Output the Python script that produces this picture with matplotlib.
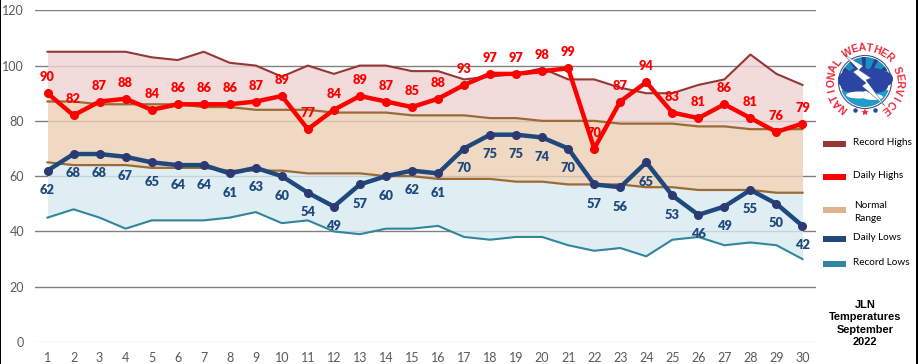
import numpy as np
import matplotlib
matplotlib.use('Agg')
import matplotlib.pyplot as plt
from matplotlib.patches import Circle, Ellipse, Polygon, Rectangle, Wedge

plt.rcParams['font.family'] = ['Lato', 'DejaVu Sans']

# === data ===
days = list(range(1, 31))
record_highs = [105, 105, 105, 105, 103, 102, 105, 101, 100, 96, 100, 97, 100, 100, 98,
                98, 95, 96, 97, 99, 95, 95, 92, 90, 90, 93, 95, 104, 97, 93]
normal_highs = [87, 87, 86, 86, 86, 86, 85, 85, 84, 84, 84, 83, 83, 83, 82,
                82, 82, 81, 81, 80, 80, 80, 79, 79, 79, 78, 78, 77, 77, 77]
normal_lows = [65, 64, 64, 64, 63, 63, 63, 62, 62, 62, 61, 61, 61, 60, 60,
               59, 59, 59, 58, 58, 57, 57, 57, 56, 56, 55, 55, 55, 54, 54]
record_lows = [45, 48, 45, 41, 44, 44, 44, 45, 47, 43, 44, 40, 39, 41, 41,
               42, 38, 37, 38, 38, 35, 33, 34, 31, 37, 38, 35, 36, 35, 30]
daily_highs = [90, 82, 87, 88, 84, 86, 86, 86, 87, 89, 77, 84, 89, 87, 85,
               88, 93, 97, 97, 98, 99, 70, 87, 94, 83, 81, 86, 81, 76, 79]
daily_lows = [62, 68, 68, 67, 65, 64, 64, 61, 63, 60, 54, 49, 57, 60, 62,
              61, 70, 75, 75, 74, 70, 57, 56, 65, 53, 46, 49, 55, 50, 42]
y_ticks = [0, 20, 40, 60, 80, 100, 120]

legend_items = [('Record Highs', '#953735', 143.5), ('Daily Highs', '#FF0000', 176.5),
                ('Daily Lows', '#1F497D', 238.5), ('Record Lows', '#31859C', 263.5)]
title_lines = ['JLN', 'Temperatures', 'September', '2022']

W, H = 918, 364
fig = plt.figure(figsize=(W / 100, H / 100), dpi=100)
ax = fig.add_axes([34.5 / W, 1 - 342 / H, (815.5 - 34.5) / W, (342 - 10.3) / H])

# --- bands ---
ax.fill_between(days, normal_highs, record_highs, color='#EFD3D2', alpha=0.8, lw=0, zorder=2)
ax.fill_between(days, normal_lows, normal_highs, color='#EBD0B5', alpha=0.8, lw=0, zorder=2)
ax.fill_between(days, record_lows, normal_lows, color='#D6EAF0', alpha=0.8, lw=0, zorder=2)

# --- lines ---
ax.plot(days, record_highs, color='#953735', lw=1.5, zorder=3)
ax.plot(days, normal_highs, color='#9C6A35', lw=1.6, zorder=3)
ax.plot(days, normal_lows, color='#9C6A35', lw=1.6, zorder=3)
ax.plot(days, record_lows, color='#31859C', lw=1.5, zorder=3)
ax.plot(days, daily_lows, color='#1F497D', lw=3.2, marker='o', ms=5.5,
        mfc='#2B3A72', mec='#2B3A72', zorder=4)
ax.plot(days, daily_highs, color='#FF0000', lw=3.2, marker='o', ms=5.5, zorder=5)

# --- value labels ---
for d, v in zip(days, daily_highs):
    ax.annotate(str(v), (d, v), xytext=(0, 11.5), textcoords='offset points', ha='center',
                va='center', color='#FF0000', fontsize=9.3, fontweight='heavy', zorder=6)
for d, v in zip(days, daily_lows):
    ax.annotate(str(v), (d, v), xytext=(0, -14), textcoords='offset points', ha='center',
                va='center', color='#1F497D', fontsize=9.3, fontweight='heavy', zorder=6)

# --- axes ---
ax.set_xlim(0.5, 30.5)
ax.set_ylim(0, 120)
ax.set_xticks(days)
ax.set_yticks(y_ticks)
ax.tick_params(length=0, labelsize=9, labelcolor='#595959')
ax.tick_params(axis='x', pad=7)
ax.tick_params(axis='y', pad=7.5)
ax.grid(axis='y', color='#808080', lw=1, zorder=1)
ax.set_axisbelow(True)
ax.get_ygridlines()[0].set_color('#D9D9D9')
for s in ax.spines.values():
    s.set_visible(False)

# === overlay in pixel coordinates for legend, logo, frame ===
ov = fig.add_axes([0, 0, 1, 1], facecolor='none')
ov.set_xlim(0, W)
ov.set_ylim(H, 0)
ov.axis('off')

ov.add_patch(Rectangle((0, 0), 1.2, H, color='black', lw=0))
ov.add_patch(Rectangle((916, 0), 2, H, color='black', lw=0))

for label, col, y in legend_items:
    ov.add_patch(Rectangle((823, y - 3), 23, 6, color=col, lw=0))
    ov.text(853, y - 1, label, fontsize=7.2, color='black', va='center', ha='left')
ov.add_patch(Rectangle((823, 207), 23, 6, color='#DDB48C', lw=0))
ov.text(854, 205.5, 'Normal', fontsize=7.2, va='center', ha='left')
ov.text(854, 218.5, 'Range', fontsize=7.2, va='center', ha='left')

for i, line in enumerate(title_lines):
    ov.text(865, 305 + i * 12.4, line, family='Liberation Sans', fontsize=7.9,
            fontweight='bold', ha='center', va='center', color='black')

# --- logo ---
cx, cy = 865, 82
disc = Circle((cx, cy), 26.5, fc='white', ec='#45507A', lw=0.8, zorder=2)
ov.add_patch(disc)
sky = Wedge((cx, cy), 25, 180, 360, fc='#1F8FC0', lw=0, zorder=3)  # y axis flipped: top half
ov.add_patch(sky)
for a in [205, 232, 262, 292, 322]:
    ov.add_patch(Wedge((cx, cy), 25, a, a + 10, fc='#24408F', lw=0, zorder=3))
ov.add_patch(Wedge((cx, cy), 25, 0, 180, fc='white', lw=0, zorder=3))
water = Wedge((cx, cy), 25, 20, 160, width=14, fc='#1F9CC8', lw=0, zorder=3)
ov.add_patch(water)
for ex, ey, ew, eh in [(-17, -2, 20, 18), (-5, -4, 26, 22), (9, -3, 26, 22), (21, -3, 14, 14),
                       (-10, 5, 28, 12), (10, 4, 26, 14)]:
    ov.add_patch(Ellipse((cx + ex, cy + ey), ew, eh, fc='#2B45A5', lw=0, zorder=4))
ov.add_patch(Ellipse((cx - 6, cy + 13), 26, 7, fc='white', lw=0, zorder=5))
ov.add_patch(Ellipse((cx + 8, cy + 15), 20, 6, fc='white', lw=0, zorder=5))
bolt = [(-22, -28), (-2, -16), (-6, -12), (6, -4), (1, -2), (20, 24), (-3, 4), (1, 1), (-12, -10), (-7, -13)]
ov.add_patch(Polygon([(cx + px, cy + py) for px, py in bolt], fc='white', ec='#45507A',
                     lw=0.3, zorder=6))

# letters around the ring, clockwise from lower left
ring = 'NATIONAL WEATHER SERVICE'
angles = np.linspace(-141, 143, len(ring))
for ch, a in zip(ring, angles):
    r = np.radians(a)
    ov.text(cx + 34 * np.sin(r), cy - 34 * np.cos(r), ch, family='Liberation Sans',
            fontsize=7.6, fontweight='bold', color='#EE2A3C', rotation=-a,
            ha='center', va='center', zorder=7)
ov.plot([854.5, 875], [110, 110], ls='none', marker='o', ms=2.2, color='#2B45A5', zorder=7)
ov.plot([865], [111.5], ls='none', marker='*', ms=6, color='#EE2A3C', mew=0, zorder=7)

fig.savefig('out.png', dpi=100)
